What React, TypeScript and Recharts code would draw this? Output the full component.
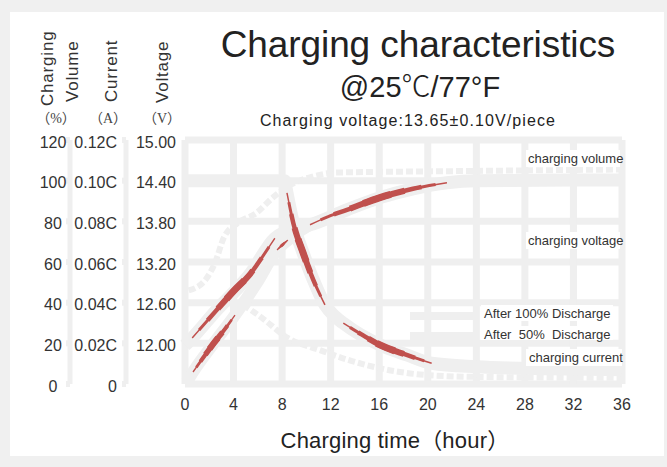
import React from "react";
import { LineChart, Line, XAxis, YAxis, CartesianGrid } from "recharts";

type Pt = { h: number; v: number };

// Tick labels
const hourTicks = [0, 4, 8, 12, 16, 20, 24, 28, 32, 36];
const volumeTicks = [0, 20, 40, 60, 80, 100, 120];
const currentTicks = [0, 0.02, 0.04, 0.06, 0.08, 0.1, 0.12];
const voltageTicks = [12.0, 12.6, 13.2, 13.8, 14.4, 15.0];

// Charging voltage (V)
const voltageTrace: Pt[] = [
  { h: 0, v: 11.97 }, { h: 0.6, v: 12.08 }, { h: 2.6, v: 12.49 }, { h: 5.4, v: 13.03 },
  { h: 7.4, v: 13.55 }, { h: 8.3, v: 13.65 }, { h: 9.3, v: 13.71 }, { h: 10.3, v: 13.75 },
  { h: 13.34, v: 13.97 }, { h: 16.06, v: 14.15 }, { h: 18.78, v: 14.28 }, { h: 21.58, v: 14.37 },
  { h: 24, v: 14.4 }, { h: 36, v: 14.41 },
];
const voltageRise: Pt[] = [
  { h: 0.6, v: 12.08 }, { h: 2.6, v: 12.49 }, { h: 4.0, v: 12.77 }, { h: 5.4, v: 13.03 },
  { h: 6.5, v: 13.31 }, { h: 7.4, v: 13.55 },
];
const voltagePlateau: Pt[] = [
  { h: 10.3, v: 13.75 }, { h: 11.8, v: 13.87 }, { h: 13.34, v: 13.97 }, { h: 16.06, v: 14.15 },
  { h: 18.78, v: 14.28 }, { h: 21.58, v: 14.37 },
];

// Charging volume (%)
const volumeTrace: Pt[] = [
  { h: 0.15, v: 1 }, { h: 0.66, v: 5.9 }, { h: 2.39, v: 20.2 }, { h: 4.12, v: 33.9 },
  { h: 5.9, v: 49.5 }, { h: 7.58, v: 65.9 }, { h: 8.48, v: 70.8 }, { h: 9.4, v: 75 },
  { h: 10.3, v: 78.2 },
];
const volumeRiseLow: Pt[] = [
  { h: 0.66, v: 5.9 }, { h: 1.48, v: 12.8 }, { h: 2.39, v: 20.2 }, { h: 3.3, v: 27.1 },
  { h: 4.12, v: 33.9 },
];
const volumeRiseHigh: Pt[] = [
  { h: 7.58, v: 65.9 }, { h: 8.0, v: 68.3 }, { h: 8.48, v: 70.8 },
];
const volumeHalfTrace: Pt[] = [
  { h: 0.3, v: 46 }, { h: 1.65, v: 51 }, { h: 2.5, v: 60 }, { h: 3.2, v: 72 },
  { h: 4.3, v: 79 }, { h: 5.85, v: 84 }, { h: 7.3, v: 92 }, { h: 8.7, v: 98 },
  { h: 10.5, v: 102 }, { h: 12.5, v: 104 }, { h: 16, v: 104.3 }, { h: 24, v: 104.8 },
  { h: 36, v: 105.5 },
];

// Charging current (C)
const currentTrace: Pt[] = [
  { h: 0, v: 0.1 }, { h: 8.2, v: 0.1 }, { h: 8.4, v: 0.094 }, { h: 8.92, v: 0.0792 },
  { h: 9.74, v: 0.0643 }, { h: 10.57, v: 0.0512 }, { h: 11.53, v: 0.0389 },
  { h: 12.3, v: 0.0335 }, { h: 13.04, v: 0.0299 }, { h: 16.06, v: 0.0192 },
  { h: 18.26, v: 0.0143 }, { h: 20.32, v: 0.0102 }, { h: 24, v: 0.0085 },
  { h: 30, v: 0.0075 }, { h: 36, v: 0.007 },
];
const currentDrop: Pt[] = [
  { h: 8.4, v: 0.094 }, { h: 8.92, v: 0.0792 }, { h: 9.74, v: 0.0643 },
  { h: 10.57, v: 0.0512 }, { h: 11.53, v: 0.0389 },
];
const currentTail: Pt[] = [
  { h: 13.04, v: 0.0299 }, { h: 14.5, v: 0.0245 }, { h: 16.06, v: 0.0192 },
  { h: 18.26, v: 0.0143 }, { h: 20.32, v: 0.0102 },
];
const currentHalfTrace: Pt[] = [
  { h: 4.8, v: 0.039 }, { h: 6.34, v: 0.0325 }, { h: 8.48, v: 0.0226 }, { h: 11.1, v: 0.0167 },
  { h: 13.75, v: 0.0113 }, { h: 17.7, v: 0.0059 }, { h: 19.9, v: 0.0044 }, { h: 24, v: 0.0035 },
  { h: 36, v: 0.003 },
];

// axis ids (left axes are stacked outward in this order)
const VOLT = "1volt";
const CUR = "2cur";
const PCT = "3pct";

const GREY = "#efefef";
const RED = "#c0504d";
const TICK_FONT = "'Liberation Sans Narrow', 'Liberation Sans', Arial, sans-serif";
const SANS = "'Liberation Sans', Arial, 'Noto Sans CJK SC', sans-serif";

const tickText = (x: number, y: number, anchor: string, label: string) => (
  <text x={x} y={y} textAnchor={anchor} dominantBaseline="central" fontSize={16} fill="#333" fontFamily={TICK_FONT}>
    {label}
  </text>
);

const PctTick = (p: any) => tickText(p.x - 13, p.y + 2, "middle", String(p.payload.value));
const CurTick = (p: any) =>
  tickText(p.x - 5, p.y + 2, "end", p.payload.value === 0 ? "0" : p.payload.value.toFixed(2) + "C");
const VoltTick = (p: any) => tickText(p.x - 5, p.y + 2, "end", p.payload.value.toFixed(2));
const HourTick = (p: any) => tickText(p.x, p.y + 20, "middle", String(p.payload.value));

const greyLine = (key: string, data: Pt[], axis: string, width: number, dash?: string) => (
  <Line
    key={key}
    data={data}
    dataKey="v"
    yAxisId={axis}
    type="monotone"
    stroke={GREY}
    strokeWidth={width}
    strokeDasharray={dash}
    dot={false}
    activeDot={false}
    isAnimationActive={false}
  />
);

// tapered red stroke: stacked layers of the same curve, each showing a shorter middle part
const TAPER = [
  { w: 1.5, cut: 0 },
  { w: 3, cut: 8 },
  { w: 4.5, cut: 18 },
  { w: 6, cut: 30 },
  { w: 7, cut: 40 },
];
const redLines = (key: string, data: Pt[], axis: string, scale = 1) =>
  TAPER.map((l, i) => (
    <Line
      key={key + i}
      data={data}
      dataKey="v"
      yAxisId={axis}
      type="monotone"
      stroke={RED}
      strokeWidth={Math.max(1.2, l.w * scale)}
      pathLength={100}
      strokeDasharray={l.cut === 0 ? undefined : `0 ${l.cut} ${100 - 2 * l.cut} 300`}
      dot={false}
      activeDot={false}
      isAnimationActive={false}
    />
  ));

const labelBoxes = [
  { text: "charging volume", x: 528, y: 158, bx: 526, by: 150, bw: 94, bh: 17 },
  { text: "charging voltage", x: 528, y: 240, bx: 526, by: 232, bw: 94, bh: 17 },
  { text: "After 100% Discharge", x: 484, y: 313, bx: 481, by: 305, bw: 132, bh: 16 },
  { text: "After  50%  Discharge", x: 484, y: 334, bx: 481, by: 326, bw: 132, bh: 14 },
  { text: "charging current", x: 529, y: 357, bx: 526, by: 349, bw: 96, bh: 17 },
];

export default function App() {
  return (
    <div style={{ position: "absolute", left: 0, top: 0, width: 667, height: 467, background: "#f0f0f0", overflow: "hidden" }}>
      <div style={{ position: "absolute", left: 10, top: 12, width: 654, height: 444, background: "#ffffff" }} />
      <div style={{ position: "absolute", left: 0, top: 0 }}>
        <LineChart width={667} height={467} margin={{ top: 140, right: 45, bottom: 63, left: 13 }}>
          <CartesianGrid yAxisId={PCT} stroke={GREY} strokeWidth={7} />
          <XAxis
            dataKey="h"
            type="number"
            domain={[0, 36]}
            ticks={hourTicks}
            height={20}
            axisLine={false}
            tickLine={false}
            tickSize={0}
            tickMargin={0}
            tick={HourTick}
            interval={0}
            allowDuplicatedCategory={false}
          />
          <YAxis
            yAxisId={VOLT}
            orientation="left"
            width={59}
            domain={[11.4, 15.0]}
            ticks={voltageTicks}
            axisLine={false}
            tickLine={false}
            tickSize={4}
            tickMargin={0}
            tick={VoltTick}
            interval={0}
          />
          <YAxis
            yAxisId={CUR}
            orientation="left"
            width={56}
            domain={[0, 0.12]}
            ticks={currentTicks}
            axisLine={{ stroke: GREY, strokeWidth: 5 }}
            tickLine={{ stroke: GREY, strokeWidth: 6 }}
            tickSize={4}
            tickMargin={0}
            tick={CurTick}
            interval={0}
          />
          <YAxis
            yAxisId={PCT}
            orientation="left"
            width={57}
            domain={[0, 120]}
            ticks={volumeTicks}
            axisLine={{ stroke: GREY, strokeWidth: 5 }}
            tickLine={{ stroke: GREY, strokeWidth: 6 }}
            tickSize={4}
            tickMargin={0}
            tick={PctTick}
            interval={0}
          />
          {greyLine("vh", volumeHalfTrace, PCT, 6, "7 3")}
          {greyLine("ch", currentHalfTrace, CUR, 6, "7 3")}
          {greyLine("vt", voltageTrace, VOLT, 13)}
          {greyLine("vo", volumeTrace, PCT, 12)}
          {greyLine("ct", currentTrace, CUR, 13)}
          {redLines("ra", voltageRise, VOLT)}
          {redLines("re", voltagePlateau, VOLT)}
          {redLines("rb", volumeRiseLow, PCT, 0.9)}
          {redLines("rb2", volumeRiseHigh, PCT, 0.4)}
          {redLines("rc", currentDrop, CUR)}
          {redLines("rd", currentTail, CUR)}
        </LineChart>
      </div>
      <svg width={667} height={467} style={{ position: "absolute", left: 0, top: 0, pointerEvents: "none" }}>
        <rect x={410} y={312} width={65} height={8} fill={GREY} />
        <rect x={410} y={332} width={65} height={8} fill={GREY} />
        {labelBoxes.map((b) => (
          <g key={b.text}>
            <rect x={b.bx} y={b.by} width={b.bw} height={b.bh} fill="#ffffff" />
            <text x={b.x} y={b.y} dominantBaseline="central" fontSize={13} fill="#333" fontFamily={SANS} style={{ whiteSpace: "pre" }}>
              {b.text}
            </text>
          </g>
        ))}
        <text x={418} y={57} textAnchor="middle" fontSize={37} letterSpacing={-0.1} fill="#222" fontFamily={SANS}>
          Charging characteristics
        </text>
        <text x={420} y={97} textAnchor="middle" fontSize={29} fill="#222" fontFamily={SANS}>
          @25<tspan fontFamily="'Noto Sans CJK SC'" fontWeight={300}>℃</tspan>/77°F
        </text>
        <text x={408} y={126} textAnchor="middle" fontSize={16} letterSpacing={1.1} fill="#222" fontFamily={SANS}>
          Charging voltage:13.65±0.10V/piece
        </text>
        <text transform="rotate(-90 53 106)" x={53} y={106} fontSize={17} letterSpacing={0.8} fill="#333" fontFamily={SANS}>
          Charging
        </text>
        <text transform="rotate(-90 78 102)" x={78} y={102} fontSize={17} letterSpacing={0.8} fill="#333" fontFamily={SANS}>
          Volume
        </text>
        <text transform="rotate(-90 117 102)" x={117} y={102} fontSize={17} letterSpacing={0.8} fill="#333" fontFamily={SANS}>
          Current
        </text>
        <text transform="rotate(-90 168 103)" x={168} y={103} fontSize={17} letterSpacing={0.8} fill="#333" fontFamily={SANS}>
          Voltage
        </text>
        <text x={56} y={123} textAnchor="middle" fontSize={14} fill="#444" fontFamily="'Liberation Serif', 'Noto Sans CJK SC', serif">
          （%）
        </text>
        <text x={108} y={123} textAnchor="middle" fontSize={14} fill="#444" fontFamily="'Liberation Serif', 'Noto Sans CJK SC', serif">
          （A）
        </text>
        <text x={162} y={123} textAnchor="middle" fontSize={14} fill="#444" fontFamily="'Liberation Serif', 'Noto Sans CJK SC', serif">
          （V）
        </text>
        <text x={395} y={448} textAnchor="middle" fontSize={22} letterSpacing={0.2} fill="#222" fontFamily={SANS}>
          Charging time（hour）
        </text>
      </svg>
    </div>
  );
}
